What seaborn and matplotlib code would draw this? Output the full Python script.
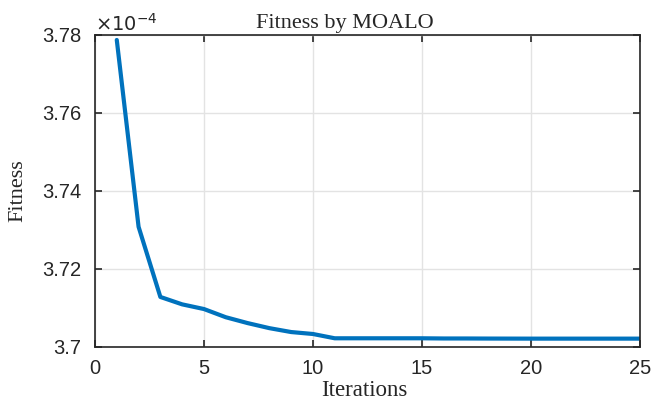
import matplotlib
matplotlib.use("Agg")
import matplotlib.pyplot as plt
import seaborn as sns
import pandas as pd

iterations = list(range(1, 26))
# Fitness values in units of 1e-4
fitness = [3.7787, 3.7308, 3.7128, 3.7109, 3.7097, 3.7076, 3.7061, 3.7048, 3.7038, 3.7033,
           3.7022, 3.7022, 3.7022, 3.7022, 3.7022, 3.70215, 3.70215, 3.70213, 3.70212, 3.70211,
           3.70211, 3.70211, 3.70211, 3.70211, 3.70211]
xticks = [0, 5, 10, 15, 20, 25]
yticks = [3.70, 3.72, 3.74, 3.76, 3.78]
yticklabels = ["3.7", "3.72", "3.74", "3.76", "3.78"]

sns.set_theme(style="white")
plt.rcParams['font.family'] = ['Liberation Sans', 'DejaVu Sans']

df = pd.DataFrame({"Iterations": iterations, "Fitness": fitness})

fig = plt.figure(figsize=(6.55, 4.01), dpi=100)
ax = fig.add_axes([0.145, 0.135, 0.832, 0.778])
sns.lineplot(data=df, x="Iterations", y="Fitness", ax=ax, color="#0072BD", linewidth=3.0)

ax.set_xlim(0, 25)
ax.set_ylim(3.70, 3.78)
ax.set_xticks(xticks)
ax.set_yticks(yticks)
ax.set_yticklabels(yticklabels)
ax.tick_params(direction="in", length=5, width=1.2, labelsize=14.5, colors="#262626",
               top=True, right=True, bottom=True, left=True)
ax.tick_params(axis="x", pad=9)
ax.tick_params(axis="y", pad=10)
ax.grid(True, color="#e3e3e3", linewidth=1.0)
for s in ax.spines.values():
    s.set_color("#262626")
    s.set_linewidth(1.2)

serif = ['Liberation Serif', 'DejaVu Serif']
ax.set_title("Fitness by MOALO", fontsize=16, family=serif, x=0.458, pad=5)
ax.set_xlabel("Iterations", fontsize=16.5, family=serif)
ax.set_ylabel("Fitness", fontsize=16, family=serif)
ax.xaxis.set_label_coords(0.495, -0.105)
ax.yaxis.set_label_coords(-0.124, 0.5)
ax.text(0.0, 1.0, r"$\times10^{-4}$", transform=ax.transAxes, fontsize=14,
        ha="left", va="bottom", color="#262626")

fig.savefig("out.png", dpi=100)
